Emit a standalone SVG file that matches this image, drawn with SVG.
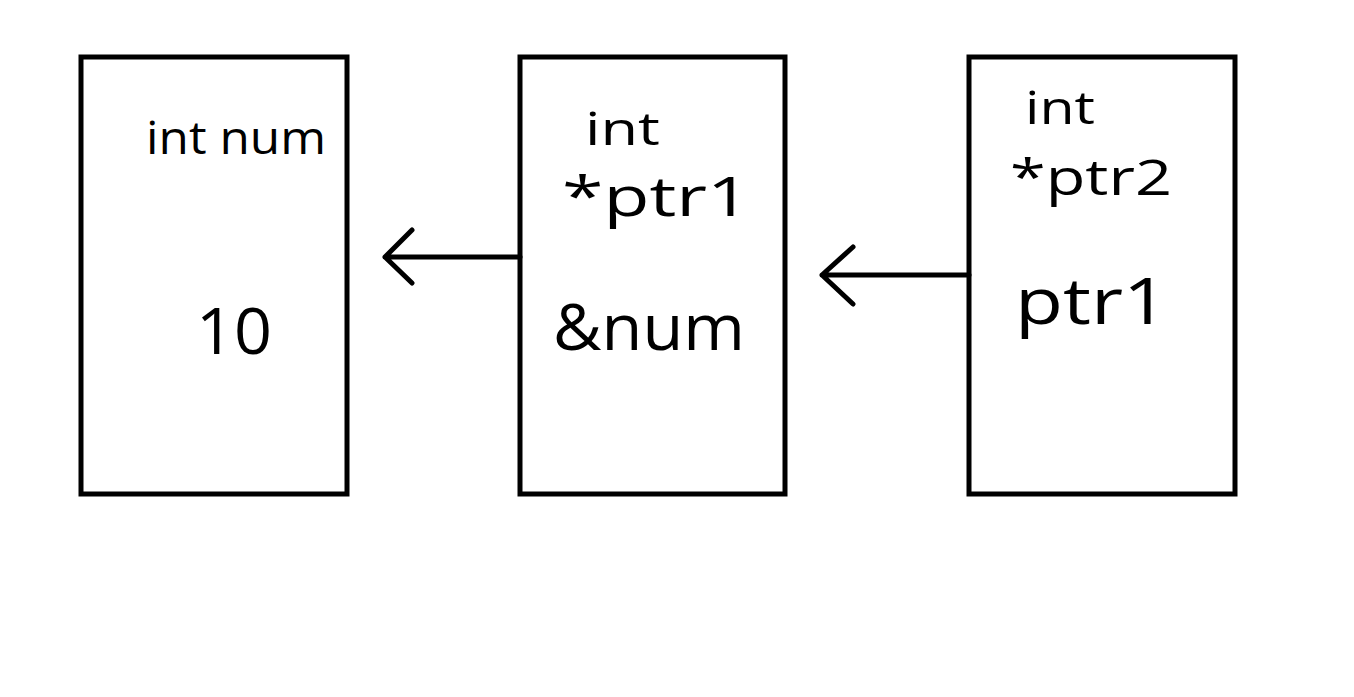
<svg xmlns="http://www.w3.org/2000/svg" width="1354" height="697" viewBox="0 0 1354 697">
<style>
.box{fill:none;stroke:#000;stroke-width:5}
.ln{fill:none;stroke:#000;stroke-width:5;stroke-linecap:round;stroke-linejoin:round}
text{font-family:"Open Sans","Liberation Sans",sans-serif;fill:#000}
.s{font-size:46px}
.m{font-size:54px}
.b{font-size:64px}
</style>
<rect width="1354" height="697" fill="#fff"/>
<g id="node-num">
<rect class="box" x="81" y="57" width="266" height="437"/>
<text class="s" x="146" y="154" textLength="180" lengthAdjust="spacingAndGlyphs">int num</text>
<text class="b" x="196" y="354" textLength="76" lengthAdjust="spacingAndGlyphs">10</text>
</g>
<g id="node-ptr1">
<rect class="box" x="520" y="57" width="265" height="437"/>
<text class="s" x="585" y="145" textLength="75" lengthAdjust="spacingAndGlyphs">int</text>
<text class="m" x="562" y="216" textLength="188" lengthAdjust="spacingAndGlyphs">*ptr1</text>
<text class="b" x="553" y="350" textLength="192" lengthAdjust="spacingAndGlyphs">&amp;num</text>
</g>
<g id="node-ptr2">
<rect class="box" x="969" y="57" width="266" height="437"/>
<text class="s" x="1025" y="124" textLength="70" lengthAdjust="spacingAndGlyphs">int</text>
<text x="1010" y="195" font-size="50" textLength="162" lengthAdjust="spacingAndGlyphs">*ptr2</text>
<text class="b" x="1015" y="324" textLength="153" lengthAdjust="spacingAndGlyphs">ptr1</text>
</g>
<g id="connectors">
<path class="ln" d="M520 257 H385 M412 230 L385 257 L412 283"/>
<path class="ln" d="M969 275 H822 M853 247 L822 275 L853 304"/>
</g>
</svg>
